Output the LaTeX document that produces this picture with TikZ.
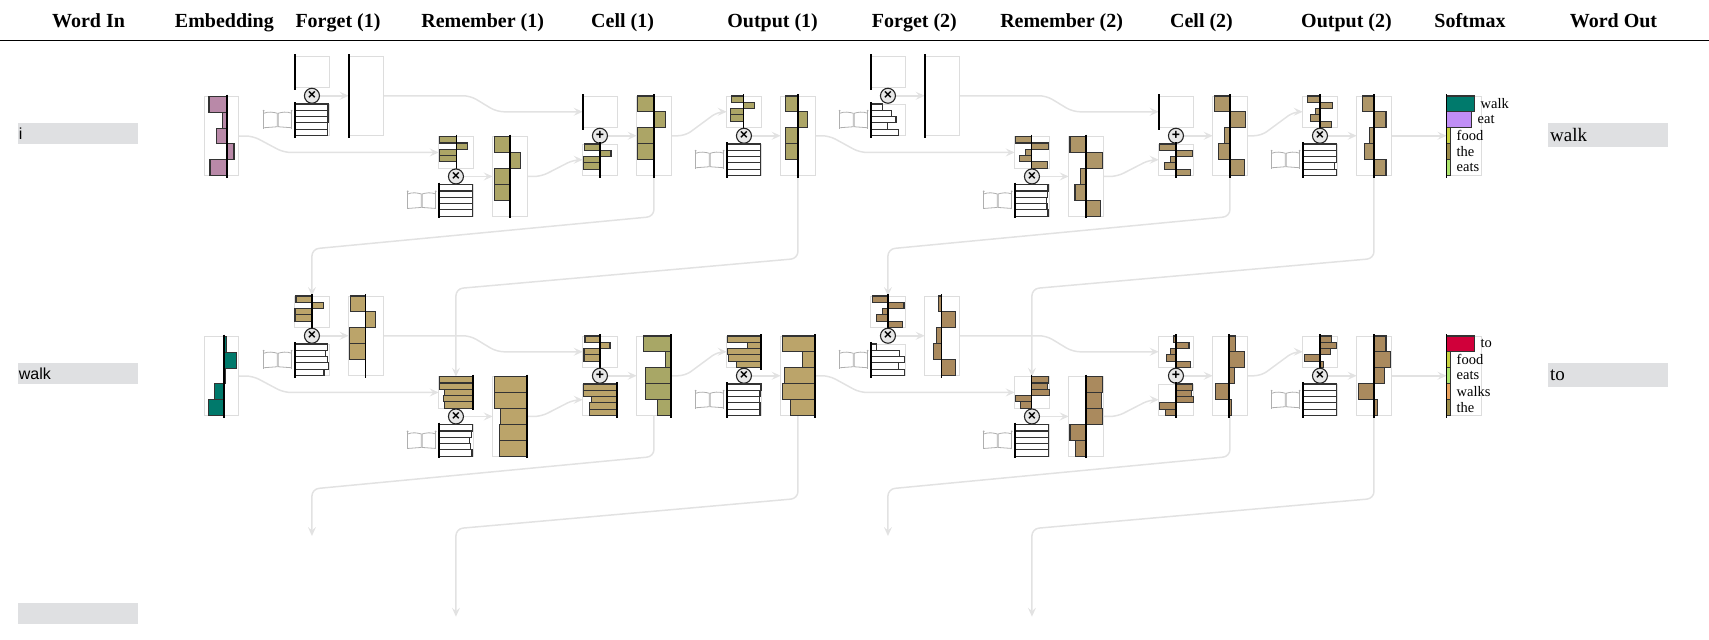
\documentclass[tikz,border=0pt]{standalone}
\usepackage{fontspec}
\setmainfont{Liberation Serif}
\setsansfont{Liberation Sans}
\usepackage{xcolor}
\usepackage{tikz}
\usetikzlibrary{
  arrows.meta,
  backgrounds,
  calc,
  positioning
}
\definecolor{framegray}{RGB}{221,221,221}
\definecolor{wiregray}{RGB}{226,226,226}
\definecolor{doorgray}{RGB}{175,175,175}
\definecolor{opgray}{RGB}{232,232,232}
\definecolor{wordgray}{RGB}{223,224,226}
\definecolor{mauve}{RGB}{185,137,168}
\definecolor{embteal}{RGB}{0,121,107}
\definecolor{olivea}{RGB}{172,165,102}
\definecolor{tanb}{RGB}{187,164,106}
\definecolor{cellgreen}{RGB}{168,167,102}
\definecolor{brownc}{RGB}{174,150,104}
\definecolor{brownd}{RGB}{170,138,94}
\definecolor{smteal}{RGB}{0,122,108}
\definecolor{smpurple}{RGB}{192,142,246}
\definecolor{smyellow}{RGB}{200,210,62}
\definecolor{smolive}{RGB}{156,140,72}
\definecolor{smgreen}{RGB}{172,228,108}
\definecolor{smred}{RGB}{208,0,58}
\definecolor{smorange}{RGB}{234,162,92}
\tikzset{
  colhead/.style={ font=\bfseries\fontsize{20}{24}\selectfont, anchor=base, inner sep=0pt },
  headrule/.style={ draw=black, line width=1.5pt },
  vecframe/.style={
    draw=framegray,
    line width=1pt,
    minimum width=34.5pt,
    inner sep=0pt,
    outer sep=0pt,
    anchor=north west
  },
  vecbar/.style={ draw=black!80, line width=1.1pt },
  axisline/.style={ draw=black, line width=1.8pt },
  opnode/.style={
    circle,
    draw=black!85,
    fill=opgray,
    line width=1.1pt,
    minimum size=15pt,
    inner sep=0pt,
    font=\sffamily\bfseries\fontsize{14}{14}\selectfont
  },
  doorline/.style={ draw=doorgray, line width=0.8pt },
  wire/.style={
    draw=wiregray,
    line width=1.5pt,
    rounded corners=7pt,
    -{Stealth[length=9pt,width=8pt,inset=3.5pt]}
  },
  wordin/.style={
    fill=wordgray,
    anchor=north west,
    minimum width=120pt,
    minimum height=21.3pt,
    text width=118pt,
    inner xsep=1pt,
    inner ysep=0pt,
    align=left,
    font=\sffamily\fontsize{16}{18}\selectfont
  },
  wordout/.style={
    fill=wordgray,
    anchor=north west,
    minimum width=120pt,
    minimum height=24pt,
    text width=116pt,
    inner xsep=2pt,
    inner ysep=0pt,
    align=left,
    font=\fontsize{19}{22}\selectfont
  },
  smlabel/.style={ anchor=west, inner sep=0.5pt, font=\fontsize{14.5}{15}\selectfont }
}
% name, x, y, height, axis offset, colour, bar values
\newcommand{\vecpanel}[7]{%
  \node[vecframe, minimum height=#4pt] (#1) at (#2,#3) {};
  \foreach \v [count=\i from 0] in {#7}{%
    \filldraw[vecbar, fill=#6] (#2+#5,#3+\i*#4/5) rectangle ++(\v,#4/5);
  }%
  \draw[axisline] (#2+#5,#3-2) -- ++(0,#4+4);
}
% right x, centre y
\newcommand{\doors}[2]{%
  \draw[doorline] (#1-28,#2-9) -- (#1-28,#2+9);
  \draw[doorline] (#1,#2-9) -- (#1,#2+9);
  \draw[doorline] (#1-28,#2-6.5) .. controls (#1-23,#2-8.5) and (#1-18,#2-7.5) .. (#1-14.5,#2-6.5) -- (#1-14.5,#2+7) -- (#1-28,#2+8);
  \draw[doorline] (#1,#2-6.5) .. controls (#1-5,#2-8.5) and (#1-10,#2-7.5) .. (#1-13.5,#2-6.5) -- (#1-13.5,#2+7) -- (#1,#2+8);
  \fill[doorgray] (#1-28,#2-9) circle[radius=1pt] (#1,#2-9) circle[radius=1pt];
}
\newcommand{\gatepanel}[4]{%
  \vecpanel{#1}{#2}{#3}{31.5}{0}{white}{#4}%
  \doors{#2-3}{#3+15.75}%
}
% name, y, colour/width/word
\newcommand{\softpanel}[3]{%
  \node[vecframe, minimum height=79.5pt] (#1) at (1446.5,#2) {};
  \foreach \c/\w/\t [count=\i from 0] in {#3}{%
    \filldraw[vecbar, fill=\c] (1446.5,#2+\i*15.9) rectangle ++(\w,15.9);
    \node[smlabel] (#1w\i) at (1446.5+\w+5.5,#2+\i*15.9+7.95) {\t};
  }%
  \draw[axisline] (1446.5,#2-2) -- ++(0,83.5);
}

\begin{document}
\begin{tikzpicture}[x=1pt, y=-1pt]
  \useasboundingbox (0,0) rectangle (1709,640);

  % column heads
  \node[colhead] (hwordin) at (88.6,27.3) {Word In};
  \node[colhead] (hemb) at (224.4,27.3) {Embedding};
  \node[colhead] (hforgeta) at (338,27.3) {Forget (1)};
  \node[colhead] (hremembera) at (482.7,27.3) {Remember (1)};
  \node[colhead] (hcella) at (622.6,27.3) {Cell (1)};
  \node[colhead] (houtputa) at (772.6,27.3) {Output (1)};
  \node[colhead] (hforgetb) at (914.4,27.3) {Forget (2)};
  \node[colhead] (hrememberb) at (1061.6,27.3) {Remember (2)};
  \node[colhead] (hcellb) at (1201.5,27.3) {Cell (2)};
  \node[colhead] (houtputb) at (1346.5,27.3) {Output (2)};
  \node[colhead] (hsoftmax) at (1470,27.3) {Softmax};
  \node[colhead] (hwordout) at (1613.5,27.3) {Word Out};
  \draw[headrule] (0,40.7) -- (1709,40.7);

  % ---- first word ----
  \node[wordin] (win1) at (17.7,122.7) {i};
  \vecpanel{emb1}{204.3}{96.5}{79}{22.4}{mauve}{-17.7,-4.3,-10,7.3,-16.7}
  \vecpanel{f1in1}{294.7}{56}{31.5}{0}{olivea}{0,0,0,0,0}
  \node[opnode] (f1op1) at (311.95,95.75) {×};
  \gatepanel{f1gt1}{294.7}{104}{33.3,33.3,33.3,32.5,32.5}
  \vecpanel{f1out1}{348.7}{56}{79.5}{0}{olivea}{0,0,0,0,0}
  \vecpanel{r1in1}{438.7}{136.7}{31.5}{17.7}{olivea}{-16.7,11.3,-16.7,-16.7,0}
  \node[opnode] (r1op1) at (455.95,176.45) {×};
  \gatepanel{r1gt1}{438.7}{184.7}{34,34,34,34,34}
  \vecpanel{r1out1}{492.7}{136.7}{79.5}{17.3}{olivea}{-15.7,10.7,-15.7,-15.7,0}
  \vecpanel{c1in1}{582.7}{96}{31.5}{0}{olivea}{0,0,0,0,0}
  \node[opnode] (c1op1) at (599.95,135.75) {+};
  \vecpanel{c1add1}{582.7}{144}{31.5}{17.3}{olivea}{-15.7,11,-16.7,-16.7,0}
  \vecpanel{c1out1}{636.7}{96}{79.5}{17.3}{olivea}{-16.3,11.3,-16.7,-16.7,0}
  \vecpanel{o1in1}{726.7}{96}{31.5}{16.7}{olivea}{-11.7,10.7,-12.7,-12.7,0}
  \node[opnode] (o1op1) at (743.95,135.75) {×};
  \gatepanel{o1gt1}{726.7}{144}{34,34,34,34,34}
  \vecpanel{o1out1}{780.7}{96}{79.5}{17}{olivea}{-12,9.7,-12,-12,0}
  \begin{scope}[xshift=576pt]
    \vecpanel{f2in1}{294.7}{56}{31.5}{0}{brownc}{0,0,0,0,0}
    \node[opnode] (f2op1) at (311.95,95.75) {×};
    \gatepanel{f2gt1}{294.7}{104}{12,21,25.3,16.7,28}
    \vecpanel{f2out1}{348.7}{56}{79.5}{0}{brownc}{0,0,0,0,0}
    \vecpanel{r2in1}{438.7}{136.7}{31.5}{16.7}{brownc}{-15.7,17,-5.7,-11.7,15.7}
    \node[opnode] (r2op1) at (455.95,176.45) {×};
    \gatepanel{r2gt1}{438.7}{184.7}{33.3,33,32,32.3,33.3}
    \vecpanel{r2out1}{492.7}{136.7}{79.5}{17.3}{brownc}{-16,16.3,-5.3,-11,14.7}
    \vecpanel{c2in1}{582.7}{96}{31.5}{0}{brownc}{0,0,0,0,0}
    \node[opnode] (c2op1) at (599.95,135.75) {+};
    \vecpanel{c2add1}{582.7}{144}{31.5}{17}{brownc}{-16,16.5,-5.3,-11.6,15}
    \vecpanel{c2out1}{636.7}{96}{79.5}{17.3}{brownc}{-15.8,15.8,-5.3,-11.2,14.7}
    \vecpanel{o2in1}{726.7}{96}{31.5}{17.3}{brownc}{-12.3,12.6,-4.9,-9.5,11.6}
    \node[opnode] (o2op1) at (743.95,135.75) {×};
    \gatepanel{o2gt1}{726.7}{144}{34,34,34,32,34}
    \vecpanel{o2out1}{780.7}{96}{79.5}{17}{brownc}{-11.6,12.3,-4.2,-8.8,12.3}
  \end{scope}
  \softpanel{soft1}{96}{smteal/28/walk, smpurple/25/eat, smyellow/4/food, smolive/4/the, smgreen/4/eats}
  \node[wordout] (wout1) at (1548,122.7) {walk};

  % ---- second word ----
  \begin{scope}[yshift=-240pt]
    \node[wordin] (win2) at (17.7,122.7) {walk};
    \vecpanel{emb2}{204.3}{96.5}{79}{20}{embteal}{2.3,12.3,1,-10,-16}
    \vecpanel{f1in2}{294.7}{56}{31.5}{17.3}{tanb}{-16,11.3,-17,-17,0}
    \node[opnode] (f1op2) at (311.95,95.75) {×};
    \gatepanel{f1gt2}{294.7}{104}{32.7,31,32.7,33.7,29.3}
    \vecpanel{f1out2}{348.7}{56}{79.5}{16.7}{tanb}{-15,10,-15.7,-15.7,0}
    \vecpanel{r1in2}{438.7}{136.7}{31.5}{34.5}{tanb}{-34,-33.3,-28.3,-30,-28.3}
    \node[opnode] (r1op2) at (455.95,176.45) {×};
    \gatepanel{r1gt2}{438.7}{184.7}{33.7,33,31,32,33.3}
    \vecpanel{r1out2}{492.7}{136.7}{79.5}{34.5}{tanb}{-33,-33,-26.3,-28,-28}
    \vecpanel{c1in2}{582.7}{96}{31.5}{17.3}{tanb}{-15,10,-16,-16,0}
    \node[opnode] (c1op2) at (599.95,135.75) {+};
    \vecpanel{c1add2}{582.7}{144}{31.5}{34.5}{tanb}{-33.3,-33.3,-25.7,-28,-28}
    \vecpanel{c1out2}{636.7}{96}{79.5}{34.5}{cellgreen}{-27.7,-5.7,-25.3,-26,-13.3}
    \vecpanel{o1in2}{726.7}{96}{31.5}{34.5}{tanb}{-33.3,-13.3,-33.3,-32.3,-25}
    \node[opnode] (o1op2) at (743.95,135.75) {×};
    \gatepanel{o1gt2}{726.7}{144}{34.3,33.3,32.7,33.3,33.3}
    \vecpanel{o1out2}{780.7}{96}{79.5}{34.5}{tanb}{-32.3,-13,-30.7,-32.3,-24.7}
    \begin{scope}[xshift=576pt]
      \vecpanel{f2in2}{294.7}{56}{31.5}{17}{brownd}{-15.3,16.3,-5,-11,15}
      \node[opnode] (f2op2) at (311.95,95.75) {×};
      \gatepanel{f2gt2}{294.7}{104}{6,28.7,33.7,27.7,33.7}
      \vecpanel{f2out2}{348.7}{56}{79.5}{16.7}{brownd}{-2.7,14,-5,-8.3,14.3}
      \vecpanel{r2in2}{438.7}{136.7}{31.5}{16.7}{brownd}{17,15.7,17.7,-16,-10.7}
      \node[opnode] (r2op2) at (455.95,176.45) {×};
      \gatepanel{r2gt2}{438.7}{184.7}{34,34,34,34,34}
      \vecpanel{r2out2}{492.7}{136.7}{79.5}{17.3}{brownd}{16.7,15.7,16.7,-16,-10.7}
      \vecpanel{c2in2}{582.7}{96}{31.5}{17}{brownd}{-2.5,13.3,-5.3,-8.8,15}
      \node[opnode] (c2op2) at (599.95,135.75) {+};
      \vecpanel{c2add2}{582.7}{144}{31.5}{17}{brownd}{16.8,15.8,17.5,-15.8,-10.5}
      \vecpanel{c2out2}{636.7}{96}{79.5}{16}{brownd}{7,15.8,6,-13,2.5}
      \vecpanel{o2in2}{726.7}{96}{31.5}{17.2}{brownd}{11.6,16.8,10.5,-15.8,3.5}
      \node[opnode] (o2op2) at (743.95,135.75) {×};
      \gatepanel{o2gt2}{726.7}{144}{34,34,34,34,34}
      \vecpanel{o2out2}{780.7}{96}{79.5}{17}{brownd}{12.3,16.8,10.5,-15,4.2}
    \end{scope}
    \softpanel{soft2}{96}{smred/28/to, smyellow/4/food, smgreen/4/eats, smorange/4/walks, smolive/4/the}
    \node[wordout] (wout2) at (1548,122.7) {to};
  \end{scope}

  % ---- third word (empty) ----
  \node[wordin] (win3) at (17.7,602.7) {};
  \coordinate (f1in3) at (311.95,536);
  \coordinate (r1in3) at (455.95,616.7);
  \coordinate (f2in3) at (887.95,536);
  \coordinate (r2in3) at (1031.95,616.7);

  \begin{scope}[on background layer]
    % word 1
    \draw[wire] (emb1.east) -- ++(14,0) -- ([xshift=-155pt]r1in1.west) -- (r1in1.west);
    \draw[wire] (f1op1.east) -- (f1op1.east -| f1out1.west);
    \draw[wire] (r1op1.east) -- (r1op1.east -| r1out1.west);
    \draw[wire] (c1op1.east) -- (c1op1.east -| c1out1.west);
    \draw[wire] (o1op1.east) -- (o1op1.east -| o1out1.west);
    \draw[wire] (f1out1.east) -- ++(87,0) -- ([xshift=-86pt]c1in1.west) -- (c1in1.west);
    \draw[wire] (r1out1.east) -- ++(14,0) -- ([xshift=-9pt]c1add1.west) -- (c1add1.west);
    \draw[wire] (c1out1.east) -- ++(14,0) -- ([xshift=-9pt]o1in1.west) -- (o1in1.west);
    \draw[wire] (o1out1.east) -- ++(14,0) -- ([xshift=-155pt]r2in1.west) -- (r2in1.west);
    \draw[wire] (f2op1.east) -- (f2op1.east -| f2out1.west);
    \draw[wire] (r2op1.east) -- (r2op1.east -| r2out1.west);
    \draw[wire] (c2op1.east) -- (c2op1.east -| c2out1.west);
    \draw[wire] (o2op1.east) -- (o2op1.east -| o2out1.west);
    \draw[wire] (f2out1.east) -- ++(87,0) -- ([xshift=-86pt]c2in1.west) -- (c2in1.west);
    \draw[wire] (r2out1.east) -- ++(14,0) -- ([xshift=-9pt]c2add1.west) -- (c2add1.west);
    \draw[wire] (c2out1.east) -- ++(14,0) -- ([xshift=-9pt]o2in1.west) -- (o2in1.west);
    \draw[wire] (o2out1.east) -- (o2out1.east -| soft1.west);
    % word 1 to word 2
    \draw[wire] (c1out1.south) -- ++(0,41) -- ([yshift=47pt]f1in2.north) -- (f1in2.north);
    \draw[wire] (o1out1.south) -- ++(0,83) -- ([yshift=88pt]r1in2.north) -- (r1in2.north);
    \draw[wire] (c2out1.south) -- ++(0,41) -- ([yshift=47pt]f2in2.north) -- (f2in2.north);
    \draw[wire] (o2out1.south) -- ++(0,83) -- ([yshift=88pt]r2in2.north) -- (r2in2.north);
    % word 2
    \draw[wire] (emb2.east) -- ++(14,0) -- ([xshift=-155pt]r1in2.west) -- (r1in2.west);
    \draw[wire] (f1op2.east) -- (f1op2.east -| f1out2.west);
    \draw[wire] (r1op2.east) -- (r1op2.east -| r1out2.west);
    \draw[wire] (c1op2.east) -- (c1op2.east -| c1out2.west);
    \draw[wire] (o1op2.east) -- (o1op2.east -| o1out2.west);
    \draw[wire] (f1out2.east) -- ++(87,0) -- ([xshift=-86pt]c1in2.west) -- (c1in2.west);
    \draw[wire] (r1out2.east) -- ++(14,0) -- ([xshift=-9pt]c1add2.west) -- (c1add2.west);
    \draw[wire] (c1out2.east) -- ++(14,0) -- ([xshift=-9pt]o1in2.west) -- (o1in2.west);
    \draw[wire] (o1out2.east) -- ++(14,0) -- ([xshift=-155pt]r2in2.west) -- (r2in2.west);
    \draw[wire] (f2op2.east) -- (f2op2.east -| f2out2.west);
    \draw[wire] (r2op2.east) -- (r2op2.east -| r2out2.west);
    \draw[wire] (c2op2.east) -- (c2op2.east -| c2out2.west);
    \draw[wire] (o2op2.east) -- (o2op2.east -| o2out2.west);
    \draw[wire] (f2out2.east) -- ++(87,0) -- ([xshift=-86pt]c2in2.west) -- (c2in2.west);
    \draw[wire] (r2out2.east) -- ++(14,0) -- ([xshift=-9pt]c2add2.west) -- (c2add2.west);
    \draw[wire] (c2out2.east) -- ++(14,0) -- ([xshift=-9pt]o2in2.west) -- (o2in2.west);
    \draw[wire] (o2out2.east) -- (o2out2.east -| soft2.west);
    % word 2 to word 3
    \draw[wire] (c1out2.south) -- ++(0,41) -- ([yshift=47pt]f1in3) -- (f1in3);
    \draw[wire] (o1out2.south) -- ++(0,83) -- ([yshift=88pt]r1in3) -- (r1in3);
    \draw[wire] (c2out2.south) -- ++(0,41) -- ([yshift=47pt]f2in3) -- (f2in3);
    \draw[wire] (o2out2.south) -- ++(0,83) -- ([yshift=88pt]r2in3) -- (r2in3);
  \end{scope}
\end{tikzpicture}
\end{document}
